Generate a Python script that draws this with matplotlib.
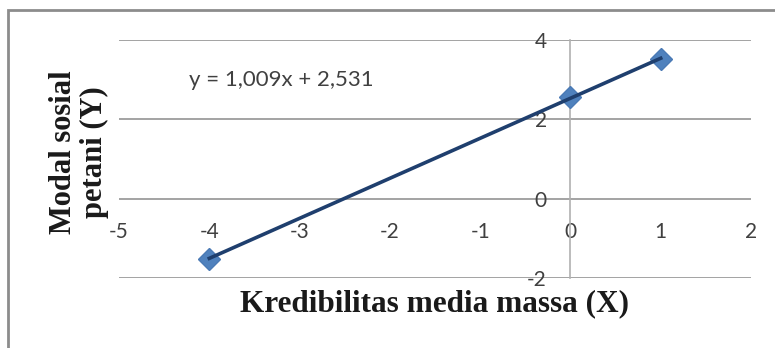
import numpy as np
import matplotlib
matplotlib.use("Agg")
import matplotlib.pyplot as plt
from matplotlib.patches import Rectangle

# Data
x_vals = [-4, 0, 1]
y_vals = [-1.51, 2.556, 3.52]
x_ticks = [-5, -4, -3, -2, -1, 0, 1, 2]
y_ticks = [-2, 0, 2, 4]
equation = "y = 1,009x + 2,531"
x_label = "Kredibilitas media massa (X)"
y_label = "Modal sosial\npetani (Y)"

fig = plt.figure(figsize=(7.75, 3.48), dpi=100)
fig.patch.set_facecolor("white")

# outer frame
fig.patches.append(Rectangle((8/775, -0.1), 1.1, (348-10)/348 + 0.1,
                             transform=fig.transFigure, fill=False,
                             edgecolor="#8c8c8c", linewidth=2.0))

ax = fig.add_axes([119/775, 1-278/348, 632/775, 238/348])
ax.set_xlim(-5, 2)
ax.set_ylim(-2, 4)
ax.set_facecolor("none")

for s in ["top", "right", "bottom"]:
    ax.spines[s].set_visible(False)
ax.spines["left"].set_position(("data", 0))
ax.spines["left"].set_color("#b0b0b0")
ax.spines["left"].set_linewidth(1.2)
ax.spines["bottom"].set_position(("data", 0))

# horizontal gridlines
for yt in y_ticks:
    ax.axhline(yt, color="#8a8a8a", linewidth=1.1, zorder=1)

ax.set_xticks(x_ticks)
ax.set_yticks(y_ticks)
ax.set_xticklabels([str(t) for t in x_ticks])
ax.set_yticklabels([str(t) for t in y_ticks])
ax.tick_params(axis="both", length=0, labelsize=15, colors="#404040")
ax.tick_params(axis="x", pad=17)
ax.tick_params(axis="y", pad=17)
for lab in ax.get_xticklabels() + ax.get_yticklabels():
    lab.set_fontfamily("Lato")

# data
ax.plot(x_vals, y_vals, linestyle="none", marker="D", markersize=11,
        color="#4f81bd", markeredgecolor="#4a7ab5", zorder=3)

coef = np.polyfit(x_vals, y_vals, 1)
xs = np.array([min(x_vals), max(x_vals)])
ax.plot(xs, np.polyval(coef, xs), color="#1f3f6e", linewidth=2.6, zorder=4)

ax.text(-4.22, 3.0, equation, fontsize=16, color="#404040", fontfamily="Lato",
        ha="left", va="center")

fig.text(435/775, 1-304/348, x_label, fontsize=22.5, fontweight="bold",
         fontfamily="Liberation Serif", ha="center", va="center", color="#1a1a1a")
fig.text(79/775, 1-152/348, y_label, fontsize=22, fontweight="bold",
         fontfamily="Liberation Serif", ha="center", va="center", rotation=90,
         color="#1a1a1a", linespacing=1.1)

fig.savefig("out.png", dpi=100, facecolor="white")
